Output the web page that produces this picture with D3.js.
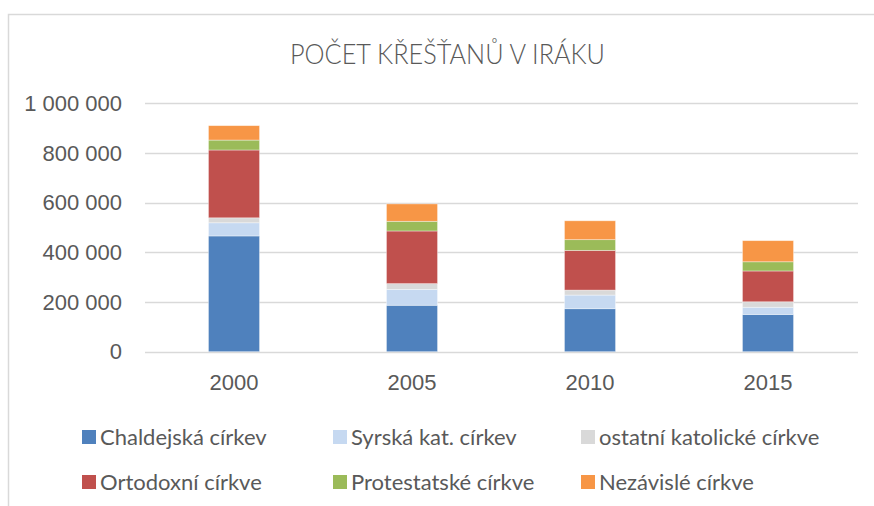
<!DOCTYPE html>
<html>
<head>
<meta charset="utf-8">
<script src="https://cdn.jsdelivr.net/npm/d3@7"></script>
<style>
  body { margin: 0; background: #fff; }
  svg { display: block; font-family: Lato, "Open Sans", sans-serif; }
  .axis text { fill: #595959; font-size: 22px; }
  .legend text { fill: #595959; font-size: 22px; }
</style>
</head>
<body>
<svg id="chart" width="874" height="506"></svg>
<script>
var years = ["2000", "2005", "2010", "2015"];
var seriesNames = ["Chaldejská církev", "Syrská kat. církev", "ostatní katolické církve",
                   "Ortodoxní církve", "Protestatské církve", "Nezávislé církve"];
var chaldejska = [466000, 187000, 173000, 150000];
var syrska     = [53000, 64000, 55000, 29000];
var ostatni    = [20000, 23000, 20000, 22000];
var ortodoxni  = [273000, 212000, 160000, 124000];
var protestant = [40000, 39000, 43000, 37000];
var nezavisle  = [58000, 70000, 76000, 85000];
var yTicks = [0, 200000, 400000, 600000, 800000, 1000000];
var colors = ["#4f81bd", "#c6d9f1", "#d9d9d9", "#c0504d", "#9bbb59", "#f79646"];

var svg = d3.select("#chart");

// outer chart frame
svg.append("path")
    .attr("d", "M8.5,506 V14.5 H874")
    .attr("fill", "none")
    .attr("stroke", "#d9d9d9")
    .attr("stroke-width", 1.5);

// title
svg.append("text")
    .attr("x", 447.5)
    .attr("y", 64)
    .attr("text-anchor", "middle")
    .attr("textLength", 315)
    .attr("lengthAdjust", "spacingAndGlyphs")
    .style("font-size", "28px")
    .style("font-weight", 300)
    .style("fill", "#595959")
    .text("POČET KŘEŠŤANŮ V IRÁKU");

var table = years.map(function (y, i) {
    return { year: y, s0: chaldejska[i], s1: syrska[i], s2: ostatni[i],
             s3: ortodoxni[i], s4: protestant[i], s5: nezavisle[i] };
});
var keys = ["s0", "s1", "s2", "s3", "s4", "s5"];
var stacked = d3.stack().keys(keys)(table);

var xs = d3.scaleBand()
    .domain(years)
    .range([145, 857])
    .paddingInner(0.713)
    .paddingOuter(0.3565);

var ys = d3.scaleLinear()
    .domain([0, 1000000])
    .range([351.7, 103.3]);

var fmt = function (d) { return d3.format(",")(d).replace(/,/g, " "); };

// gridlines
svg.append("g")
    .selectAll("line")
    .data(yTicks)
    .enter().append("line")
    .attr("x1", 145)
    .attr("x2", 858)
    .attr("y1", function (d) { return Math.round(ys(d)) + 0.5; })
    .attr("y2", function (d) { return Math.round(ys(d)) + 0.5; })
    .attr("stroke", "#d9d9d9")
    .attr("stroke-width", 1.3);

// y-axis labels
var y_axis = d3.axisLeft(ys)
    .tickValues(yTicks)
    .tickFormat(fmt)
    .tickSize(0)
    .tickPadding(0);

svg.append("g")
    .attr("class", "axis")
    .attr("transform", "translate(122,0)")
    .call(y_axis)
    .call(function (g) { g.select(".domain").remove(); });

// bars
svg.append("g")
    .selectAll("g")
    .data(stacked)
    .enter().append("g")
    .attr("fill", function (d, i) { return colors[i]; })
    .selectAll("rect")
    .data(function (d) { return d; })
    .enter().append("rect")
    .attr("x", function (d) { return xs(d.data.year); })
    .attr("y", function (d) { return ys(d[1]); })
    .attr("width", xs.bandwidth())
    .attr("height", function (d) { return ys(d[0]) - ys(d[1]); })
    .attr("stroke", "#ffffff")
    .attr("stroke-opacity", 0.5)
    .attr("stroke-width", 0.75);

// x-axis labels
var x_axis = d3.axisBottom(xs)
    .tickSize(0)
    .tickPadding(0);

svg.append("g")
    .attr("class", "axis")
    .attr("transform", "translate(0,374)")
    .call(x_axis)
    .call(function (g) { g.select(".domain").remove(); });

// legend
var legendCols = [82, 333, 581];
var legendRows = [430, 475];
var legend = svg.append("g")
    .attr("class", "legend")
    .selectAll("g")
    .data(seriesNames)
    .enter().append("g")
    .attr("transform", function (d, i) {
        return "translate(" + legendCols[i % 3] + "," + legendRows[Math.floor(i / 3)] + ")";
    });

legend.append("rect")
    .attr("width", 14)
    .attr("height", 14)
    .attr("fill", function (d, i) { return colors[i]; });

legend.append("text")
    .attr("x", 18)
    .attr("y", 7)
    .attr("dy", "0.35em")
    .text(function (d) { return d; });
</script>
</body>
</html>
